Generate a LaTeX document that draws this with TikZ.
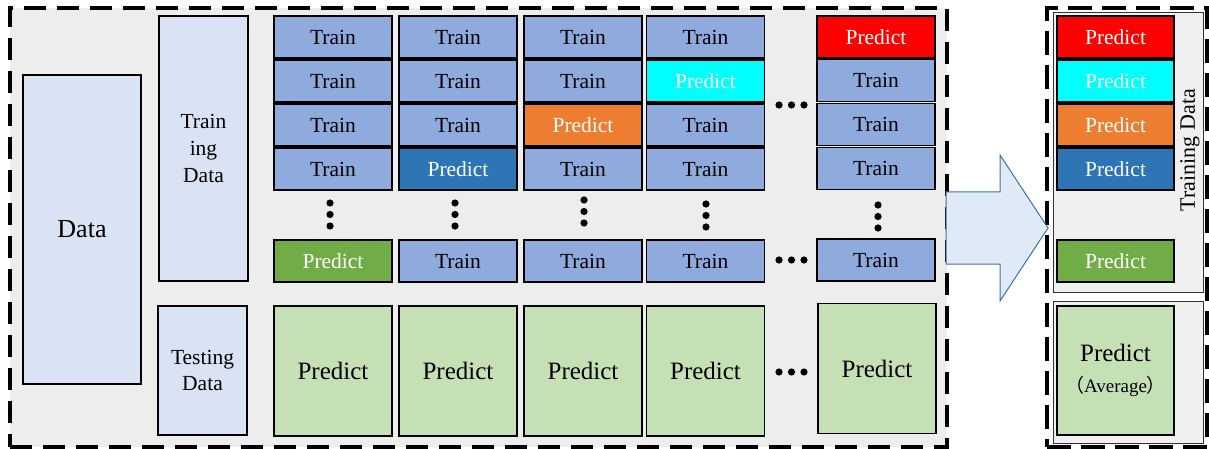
\documentclass[tikz,border=0pt]{standalone}
\usepackage{fontspec}
\setmainfont{Liberation Serif}
\newfontfamily\cjk{Noto Sans CJK SC}
\definecolor{bgray}{HTML}{EDEDED}
\definecolor{igray}{HTML}{F0F0F0}
\definecolor{databox}{HTML}{DAE3F3}
\definecolor{trainblue}{HTML}{8FAADC}
\definecolor{pblue}{HTML}{2E75B6}
\definecolor{porange}{HTML}{ED7D31}
\definecolor{pcyan}{HTML}{00FFFF}
\definecolor{pred}{HTML}{FF0000}
\definecolor{pgreen}{HTML}{70AD47}
\definecolor{lgreen}{HTML}{C5E0B4}
\definecolor{arrowfill}{HTML}{DEEBF7}
\definecolor{arrowline}{HTML}{41719C}
\begin{document}
\begin{tikzpicture}[x=1pt,y=-1pt,
  dashbox/.style={draw=black, line width=3.3pt, dash pattern=on 22pt off 11pt, inner sep=0pt},
  cell/.style={draw=black, line width=1.6pt, minimum width=118pt, minimum height=42pt, inner sep=0pt, font=\fontsize{21.5}{24}\selectfont},
  trainc/.style={cell, fill=trainblue, text=black},
  predc/.style={cell, text=white},
  bigpred/.style={draw=black, line width=1.3pt, fill=lgreen, minimum width=118pt, minimum height=130pt, inner sep=0pt, font=\fontsize{25}{28}\selectfont},
  dbox/.style={draw=black, line width=1.3pt, fill=databox, inner sep=0pt, align=center},
  inner/.style={draw=black!80, line width=1pt, fill=igray, inner sep=0pt},
  dot/.style={fill=black}
]
\useasboundingbox (0,0) rectangle (1209,449);

% containers
\node[dashbox, fill=bgray, minimum width=937pt, minimum height=439pt] (left) at (478.5,227.5) {};
\node[dashbox, line width=3.8pt, dash pattern=on 24pt off 10pt, fill=white, minimum width=160pt, minimum height=439pt] (right) at (1127,227.5) {};

% data boxes
\node[dbox, minimum width=118pt, minimum height=309pt, font=\fontsize{26}{30}\selectfont] (data) at (82,229.5) {Data};
\node[dbox, minimum width=89pt, minimum height=265pt, font=\fontsize{21.5}{27}\selectfont] (trdata) at (203.5,148.5) {Train\\ing\\Data};
\node[dbox, minimum width=89pt, minimum height=129pt, font=\fontsize{21.5}{26}\selectfont] (tedata) at (202.5,370.5) {Testing\\Data};

% column 1
\node[trainc] (a1) at (333,37) {Train};
\node[trainc] (a2) at (333,81) {Train};
\node[trainc] (a3) at (333,125) {Train};
\node[trainc] (a4) at (333,169) {Train};
\node[predc, fill=pgreen] (a5) at (333,261) {Predict};
% column 2
\node[trainc] (b1) at (458,37) {Train};
\node[trainc] (b2) at (458,81) {Train};
\node[trainc] (b3) at (458,125) {Train};
\node[predc, fill=pblue] (b4) at (458,169) {Predict};
\node[trainc] (b5) at (458,261) {Train};
% column 3
\node[trainc] (c1) at (583,37) {Train};
\node[trainc] (c2) at (583,81) {Train};
\node[predc, fill=porange] (c3) at (583,125) {Predict};
\node[trainc] (c4) at (583,169) {Train};
\node[trainc] (c5) at (583,261) {Train};
% column 4
\node[trainc] (d1) at (705.5,37) {Train};
\node[predc, fill=pcyan] (d2) at (705.5,81) {Predict};
\node[trainc] (d3) at (705.5,125) {Train};
\node[trainc] (d4) at (705.5,169) {Train};
\node[trainc] (d5) at (705.5,261) {Train};
% column 5
\node[predc, fill=pred] (e1) at (876,37) {Predict};
\node[trainc] (e2) at (876,80.5) {Train};
\node[trainc] (e3) at (876,124.5) {Train};
\node[trainc] (e4) at (876,168.5) {Train};
\node[trainc] (e5) at (876,260) {Train};

% vertical dots
\foreach \x/\y in {330/203, 455/203, 584/200, 706/204, 878/205}{
  \fill[dot] (\x,\y) circle (3.6pt);
  \fill[dot] (\x,\y+11.5) circle (3.6pt);
  \fill[dot] (\x,\y+23) circle (3.6pt);
}
% horizontal dots
\foreach \x/\y in {779/105, 779/260, 779/372}{
  \fill[dot] (\x,\y) circle (3.6pt);
  \fill[dot] (\x+12.5,\y) circle (3.6pt);
  \fill[dot] (\x+25,\y) circle (3.6pt);
}

% testing predictions
\node[bigpred] (g1) at (333,371) {Predict};
\node[bigpred] (g2) at (458,371) {Predict};
\node[bigpred] (g3) at (583,371) {Predict};
\node[bigpred] (g4) at (705.5,371) {Predict};
\node[bigpred] (g5) at (877,368.5) {Predict};

% big arrow
\draw[fill=arrowfill, draw=arrowline, line width=1pt]
  (946,192) -- (1000,192) -- (1000,155) -- (1048,228) -- (1000,301) -- (1000,264) -- (946,264) -- cycle;

% right side
\node[inner, minimum width=150pt, minimum height=279pt] (rtrain) at (1128,152.5) {};
\node[inner, minimum width=150pt, minimum height=142pt] (rtest) at (1128,372) {};
\node[predc, minimum width=117pt, fill=pred] (r1) at (1115.5,37) {Predict};
\node[predc, minimum width=117pt, fill=pcyan] (r2) at (1115.5,81) {Predict};
\node[predc, minimum width=117pt, fill=porange] (r3) at (1115.5,125) {Predict};
\node[predc, minimum width=117pt, fill=pblue] (r4) at (1115.5,169) {Predict};
\node[predc, minimum width=117pt, fill=pgreen] (r5) at (1115.5,261) {Predict};
\node[rotate=90, font=\fontsize{22}{24}\selectfont, inner sep=0pt] (rlabel) at (1190,150) {Training Data};
\node[bigpred, minimum width=117pt, minimum height=129pt, align=center] (ravg) at (1115.5,370.5)
  {Predict\\[3pt]{\fontsize{19}{21}\selectfont{\cjk （}Average{\cjk ）}}};
\end{tikzpicture}
\end{document}
